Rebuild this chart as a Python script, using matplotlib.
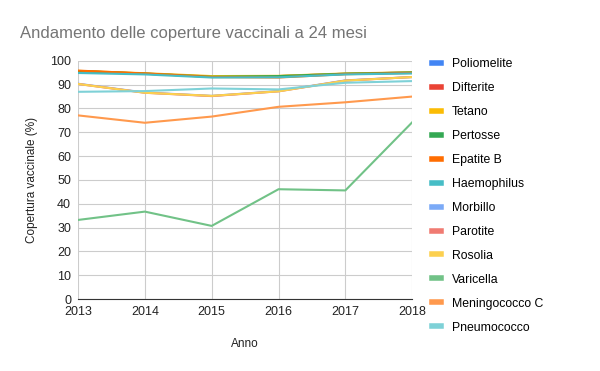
import matplotlib.pyplot as plt

plt.rcParams['font.family'] = ['Liberation Sans', 'DejaVu Sans']

# Dati: coperture vaccinali a 24 mesi (%)
anni = [2013, 2014, 2015, 2016, 2017, 2018]
poliomelite = [95.7, 94.7, 93.4, 93.3, 94.5, 95.1]
difterite = [95.7, 94.6, 93.4, 93.6, 94.6, 95.1]
tetano = [95.8, 94.8, 93.6, 93.7, 94.7, 95.2]
pertosse = [95.7, 94.6, 93.3, 93.6, 94.6, 95.1]
epatite_b = [95.9, 94.7, 93.2, 93.0, 94.4, 94.9]
haemophilus = [94.9, 94.3, 93.0, 93.1, 94.3, 94.7]
morbillo = [90.4, 86.7, 85.3, 87.3, 91.8, 93.2]
parotite = [90.3, 86.6, 85.2, 87.2, 91.7, 93.2]
rosolia = [90.3, 86.6, 85.3, 87.2, 91.7, 93.2]
varicella = [33.2, 36.7, 30.7, 46.1, 45.6, 74.2]
meningococco_c = [77.1, 74.0, 76.6, 80.7, 82.6, 85.0]
pneumococco = [87.0, 87.3, 88.4, 88.0, 90.8, 91.5]

serie = [
    ('Poliomelite', poliomelite, '#4285F4'),
    ('Difterite', difterite, '#EA4335'),
    ('Tetano', tetano, '#FBBC04'),
    ('Pertosse', pertosse, '#34A853'),
    ('Epatite B', epatite_b, '#FF6D01'),
    ('Haemophilus', haemophilus, '#46BDC6'),
    ('Morbillo', morbillo, '#7BAAF7'),
    ('Parotite', parotite, '#F07B72'),
    ('Rosolia', rosolia, '#FCD04F'),
    ('Varicella', varicella, '#71C287'),
    ('Meningococco C', meningococco_c, '#FF994D'),
    ('Pneumococco', pneumococco, '#7ED1D7'),
]

fig = plt.figure(figsize=(6, 3.71), dpi=100)
ax = fig.add_axes([0.13, 0.194, 0.557, 0.642])

for nome, valori, colore in serie:
    ax.plot(anni, valori, color=colore, lw=1.5, label=nome)

ax.set_xlim(2013, 2018)
ax.set_ylim(0, 100)
ax.set_yticks(range(0, 101, 10))
ax.set_xticks(anni)
ax.grid(True, color='#cccccc', lw=0.8)
ax.set_axisbelow(True)
for s in ['top', 'right', 'left']:
    ax.spines[s].set_visible(False)
ax.spines['bottom'].set_color('#333333')
ax.tick_params(length=0, labelsize=9, colors='#222222')
ax.tick_params(axis='x', pad=5)
ax.tick_params(axis='y', pad=5)

ax.set_xlabel('Anno', fontsize=8.5, color='#222222', labelpad=14.5)
ax.set_ylabel('Copertura vaccinale (%)', fontsize=8.5, color='#222222', labelpad=9)

fig.text(0.033, 0.91, 'Andamento delle coperture vaccinali a 24 mesi',
         fontsize=12, color='#757575', va='center')

leg = fig.legend(loc='upper left', bbox_to_anchor=(0.712, 0.857), frameon=False,
                 fontsize=8.8, handlelength=0.75, handletextpad=0.9,
                 labelspacing=0.98, borderaxespad=0)
for h in leg.legend_handles:
    h.set_linewidth(4)

fig.savefig('out.png', dpi=100)
